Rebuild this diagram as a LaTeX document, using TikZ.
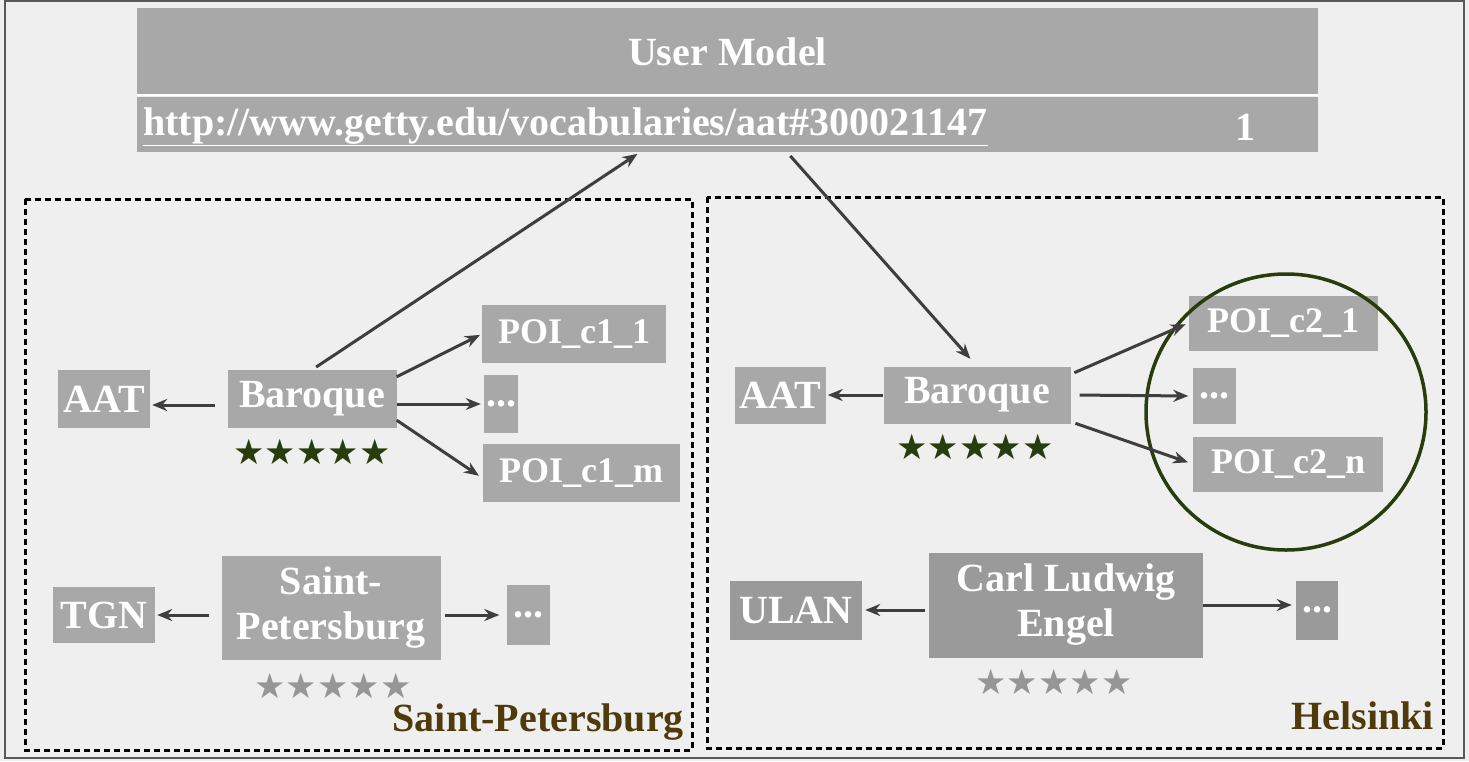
\documentclass[tikz,border=0pt]{standalone}
\usepackage{fontspec}
\setmainfont{Liberation Serif}
\newfontfamily\symfont{DejaVu Sans}
\usepackage{xcolor}
\usepackage{tikz}
\usetikzlibrary{calc,arrows.meta,backgrounds}
\newcommand{\Wd}{1469}
\newcommand{\Ht}{761}
\def\ratings{
  312/452/starfull,
  975/447/starfull,
  333/686/starnone,
  1054/682/starnone}
\definecolor{paper}{RGB}{239,239,239}
\definecolor{tagfill}{RGB}{168,168,168}
\definecolor{tagdark}{RGB}{154,154,154}
\definecolor{linkgray}{RGB}{62,62,62}
\definecolor{stargreen}{RGB}{40,60,12}
\definecolor{stargray}{RGB}{150,150,150}
\definecolor{citybrown}{RGB}{78,58,10}
\tikzset{
  tag/.style      = {fill=tagfill, text=white, inner sep=3pt, align=center,
                     font=\bfseries\fontsize{40}{45}\selectfont},
  tagdk/.style    = {tag, fill=tagdark},
  tagpoi/.style   = {tag, font=\bfseries\fontsize{36}{40}\selectfont},
  tagdots/.style  = {tag, inner xsep=2pt},
  link/.style     = {-{Stealth[length=15pt,width=12pt]}, line width=3pt, draw=linkgray},
  city/.style     = {dashed, dash pattern=on 6pt off 4pt, line width=3pt, draw=black},
  cityname/.style = {text=citybrown, inner sep=0pt, font=\bfseries\fontsize{40}{45}\selectfont},
  starfull/.style = {text=stargreen, font=\symfont\fontsize{35}{40}\selectfont},
  starnone/.style = {text=stargray, font=\symfont\fontsize{35}{40}\selectfont}
}

\begin{document}
\begin{tikzpicture}[x=1pt,y=-1pt]
  \useasboundingbox (0,0) rectangle (\Wd,\Ht);
  \fill[paper] (0,0) rectangle (\Wd,\Ht);
  \draw[line width=2pt, draw=black!65] (5,1) rectangle (1464,758);
  % user model header: title band and concept band
  \node[tag, minimum width=1181pt, minimum height=87pt] (um) at (727.5,51.5) {User Model};
  \node[tag, minimum width=1181pt, minimum height=55pt] (band) at (727.5,124.5) {};
  \draw[white, line width=2pt] (um.south west) -- (um.south east);
  \node[tag, fill=none, anchor=west, inner sep=0pt] (url) at (143,127)
    {\underline{http://www.getty.edu/vocabularies/aat\#300021147}};
  \node[tag, fill=none] (weight) at (1245,127) {1};
  % city areas
  \draw[city] (25,199) rectangle (692,750);
  \draw[city] (707,197) rectangle (1443,748);
  \node[cityname, anchor=base east] (spbname) at (684,731) {Saint-Petersburg};
  \node[cityname, anchor=base east] (helname) at (1434,729) {Helsinki};
  % Saint-Petersburg
  \node[tag, minimum width=92pt,  minimum height=58pt]  (aatL)  at (104,399) {AAT};
  \node[tag, minimum width=169pt, minimum height=58pt]  (barL)  at (312,399) {Baroque};
  \node[tagpoi, minimum width=184pt, minimum height=58pt]  (poiLa) at (574,334) {POI\_c1\_1};
  \node[tagdots, minimum width=33pt,  minimum height=58pt] (dotsL) at (501,404) {...};
  \node[tagpoi, minimum width=197pt, minimum height=58pt]  (poiLm) at (581,473) {POI\_c1\_m};
  \node[tag, minimum width=102pt, minimum height=56pt]  (tgn)   at (104,615) {TGN};
  \node[tag, minimum width=219pt, minimum height=104pt] (spb)   at (331,608) {Saint-\\Petersburg};
  \node[tagdots, minimum width=43pt,  minimum height=60pt] (dotsS) at (528,615) {...};
  % Helsinki
  \node[tag, minimum width=91pt,  minimum height=57pt]  (aatR)  at (780,395) {AAT};
  \node[tag, minimum width=187pt, minimum height=57pt]  (barR)  at (977,395) {Baroque};
  \node[tagpoi, minimum width=189pt, minimum height=55pt]  (poiRa) at (1283,323) {POI\_c2\_1};
  \node[tagdots, minimum width=43pt,  minimum height=56pt] (dotsR) at (1214,396) {...};
  \node[tagpoi, minimum width=190pt, minimum height=55pt]  (poiRn) at (1288,464) {POI\_c2\_n};
  \node[tagdk, minimum width=132pt, minimum height=59pt]  (ulan)  at (796,610) {ULAN};
  \node[tagdk, minimum width=274pt, minimum height=105pt] (engel) at (1066,605) {Carl Ludwig\\Engel};
  \node[tagdk, tagdots, fill=tagdark, minimum width=42pt, minimum height=59pt] (dotsE) at (1317,610) {...};
  \draw[line width=3.5pt, draw=stargreen] (1286,412) ellipse[x radius=140pt, y radius=138pt];
  % ratings
  \foreach \x/\y/\s in \ratings {
    \node[\s] at (\x,\y) {★★★★★};
  }
  % links
  \draw[link, shorten <=5pt, shorten >=3pt] (barL.north) -- ([xshift=-87.5pt]band.south);
  \draw[link, shorten <=5pt, shorten >=10pt] ([xshift=59.5pt]band.south) -- (barR.north);
  \draw[link, shorten <=12pt, shorten >=2pt] (barL.west |- 0,405) -- (aatL.east |- 0,405);
  \draw[link, shorten >=2pt] ([yshift=-7pt]barL.north east) -- (poiLa.west);
  \draw[link, shorten >=3pt] (barL.east |- dotsL) -- (dotsL.west);
  \draw[link, shorten >=4pt] ([yshift=8pt]barL.south east) -- ([yshift=-5pt]poiLm.west);
  \draw[link, shorten <=12pt, shorten >=2pt] (spb.west |- tgn) -- (tgn.east);
  \draw[link, shorten <=4pt, shorten >=7pt] (spb.east |- dotsS) -- (dotsS.west);
  \draw[link, shorten >=2pt] (barR.west) -- (aatR.east);
  \draw[link, shorten <=4pt, shorten >=3pt] ([yshift=-8pt]barR.north east) -- (poiRa.west);
  \draw[link, shorten <=9pt, shorten >=4pt] (barR.east) -- (dotsR.west);
  \draw[link, shorten <=5pt, shorten >=5pt] ([yshift=2pt]barR.south east) -- (poiRn.west);
  \draw[link, shorten <=4pt, shorten >=3pt] (engel.west |- ulan) -- (ulan.east);
  \draw[link, shorten >=4pt] (engel.east) -- (dotsE.west |- engel.east);
\end{tikzpicture}
\end{document}
